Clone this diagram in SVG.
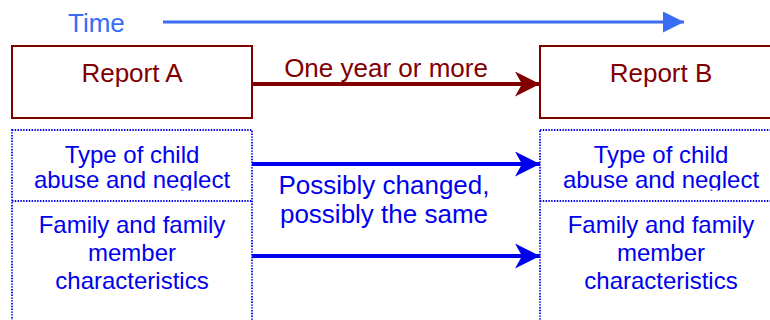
<svg xmlns="http://www.w3.org/2000/svg" width="770" height="320" viewBox="0 0 770 320">
  <style>
    text { font-family: "Liberation Sans", Arial, sans-serif; text-anchor: middle; }
    .time { fill: #3a6cf4; font-size: 26px; text-anchor: start; }
    .rep { fill: #800000; font-size: 26px; }
    .blue { fill: #0000ee; font-size: 24px; }
    .blue26 { fill: #0000ee; font-size: 26px; }
    .repbox { fill: #ffffff; stroke: #800000; stroke-width: 2; }
    .dot { fill: none; stroke: #0000ee; stroke-width: 1.8; stroke-dasharray: 1.4 1.4; }
  </style>
  <defs>
    <marker id="hTime" markerUnits="userSpaceOnUse" markerWidth="24" markerHeight="24" refX="21" refY="10.5" orient="auto" viewBox="0 0 24 24">
      <path d="M0,0 L21,10.5 L0,21 Z" fill="#3a6cf4"/>
    </marker>
    <marker id="hRed" markerUnits="userSpaceOnUse" markerWidth="28" markerHeight="28" refX="25" refY="12.5" orient="auto" viewBox="0 0 28 28">
      <path d="M0,0 L25,12.5 L0,25 L7,12.5 Z" fill="#800000"/>
    </marker>
    <marker id="hBlue" markerUnits="userSpaceOnUse" markerWidth="28" markerHeight="28" refX="25" refY="12.5" orient="auto" viewBox="0 0 28 28">
      <path d="M0,0 L25,12.5 L0,25 L7,12.5 Z" fill="#0000ee"/>
    </marker>
    <clipPath id="clipA"><rect x="12" y="130" width="240" height="60.5"/></clipPath>
    <clipPath id="clipB"><rect x="540" y="130" width="240" height="60.5"/></clipPath>
  </defs>

  <g id="time">
    <text class="time" x="68" y="32">Time</text>
  </g>

  <g id="reportA">
    <rect class="repbox" x="12" y="46" width="240" height="72"/>
    <text class="rep" x="132" y="82">Report A</text>
  </g>
  <g id="reportB">
    <rect class="repbox" x="540" y="46" width="242" height="72"/>
    <text class="rep" x="661" y="82">Report B</text>
  </g>

  <g id="detailsA">
    <rect class="dot" x="12" y="130" width="240" height="200"/>
    <line class="dot" x1="12" y1="201" x2="252" y2="201"/>
    <g clip-path="url(#clipA)">
      <text class="blue" x="132" y="163">Type of child</text>
      <text class="blue" x="132" y="188">abuse and neglect</text>
    </g>
    <text class="blue" x="132" y="233">Family and family</text>
    <text class="blue" x="132" y="261">member</text>
    <text class="blue" x="132" y="289">characteristics</text>
  </g>
  <g id="detailsB">
    <rect class="dot" x="540" y="130" width="242" height="200"/>
    <line class="dot" x1="540" y1="201" x2="782" y2="201"/>
    <g clip-path="url(#clipB)">
      <text class="blue" x="661" y="163">Type of child</text>
      <text class="blue" x="661" y="188">abuse and neglect</text>
    </g>
    <text class="blue" x="661" y="233">Family and family</text>
    <text class="blue" x="661" y="261">member</text>
    <text class="blue" x="661" y="289">characteristics</text>
  </g>

  <g id="connectors">
    <line x1="163" y1="22" x2="684" y2="22" stroke="#3a6cf4" stroke-width="3" marker-end="url(#hTime)"/>
    <line x1="252" y1="84" x2="540" y2="84" stroke="#800000" stroke-width="4" marker-end="url(#hRed)"/>
    <text class="rep" x="386" y="77">One year or more</text>
    <line x1="252" y1="164" x2="540" y2="164" stroke="#0000ee" stroke-width="4" marker-end="url(#hBlue)"/>
    <line x1="252" y1="256" x2="540" y2="256" stroke="#0000ee" stroke-width="4" marker-end="url(#hBlue)"/>
    <text class="blue26" x="384" y="194">Possibly changed,</text>
    <text class="blue26" x="384" y="223">possibly the same</text>
  </g>
</svg>
